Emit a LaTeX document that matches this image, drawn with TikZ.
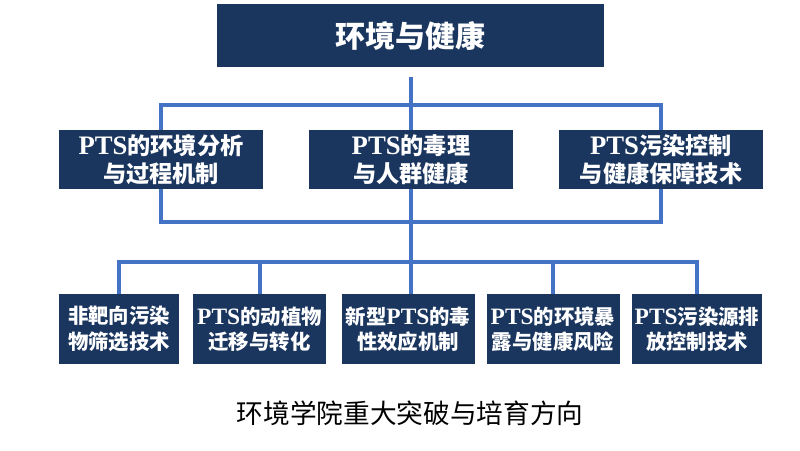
\documentclass[tikz,border=0pt]{standalone}
\usepackage{fontspec}
\setmainfont{Liberation Serif}[Scale=1.15]
\newfontfamily\cjk{Noto Sans CJK SC}
\usetikzlibrary{positioning}
\definecolor{navy}{RGB}{26,54,94}
\definecolor{linkblue}{RGB}{68,114,196}
\newcommand{\pts}{{\rmfamily\bfseries PTS}}
\begin{document}
\begin{tikzpicture}[x=0.75pt,y=-0.75pt]

    \tikzset{
      box/.style={
        fill=navy,
        text=white,
        align=center,
        inner sep=0pt,
        font=\cjk\bfseries,
      },
      midbox/.style={
        box,
        minimum width=153pt,
        minimum height=44.25pt,
        font=\cjk\bfseries\fontsize{17.4pt}{21pt}\selectfont,
      },
      lowbox/.style={
        box,
        minimum height=52.5pt,
        font=\cjk\bfseries\fontsize{15.3pt}{19pt}\selectfont,
      },
      link/.style={
        color=linkblue,
        line width=3pt,
      },
    }

	\useasboundingbox (0,0) rectangle (800,450);

	\node[box,minimum width=290.25pt,minimum height=47.25pt,font=\cjk\bfseries\fontsize{22.5pt}{26pt}\selectfont] (top) at (410.5,35.5) {环境与健康};

	\node[midbox] (m1) at (161,159.5) {\pts 的环境分析\\与过程机制};
	\node[midbox] (m2) at (411,159.5) {\pts 的毒理\\与人群健康};
	\node[midbox] (m3) at (661,159.5) {\pts 污染控制\\与健康保障技术};

	\node[lowbox,minimum width=90pt] (b1) at (119,329) {非靶向污染\\物筛选技术};
	\node[lowbox,minimum width=99.75pt] (b2) at (259.5,329) {\pts 的动植物\\迁移与转化};
	\node[lowbox,minimum width=99.75pt] (b3) at (408,329) {新型\pts 的毒\\性效应机制};
	\node[lowbox,minimum width=99.75pt] (b4) at (553,329) {\pts 的环境暴\\露与健康风险};
	\node[lowbox,minimum width=97.5pt] (b5) at (697,329) {\pts 污染源排\\放控制技术};

	\node[font=\cjk\fontsize{20pt}{24pt}\selectfont] (caption) at (410,413) {环境学院重大突破与培育方向};

	\coordinate (j1) at (411,105);
	\coordinate (j2) at (411,222);
	\coordinate (j3) at (411,262);

	\draw[link,shorten <=7.5pt] (top.south -| j1) -- (j1);
	\draw[link] (m1.north) |- (j1) -| (m3.north);
	\draw[link] (j1) -- (m2.north);
	\draw[link] (m1.south) |- (j2) -| (m3.south);
	\draw[link] (m2.south) -- (j2) -- (j3);
	\draw[link] (b1.north) |- (j3) -| (b5.north);
	\draw[link] (b2.north) -- (b2.north |- j3);
	\draw[link] (b3.north -| j3) -- (j3);
	\draw[link] (b4.north) -- (b4.north |- j3);

\end{tikzpicture}
\end{document}
